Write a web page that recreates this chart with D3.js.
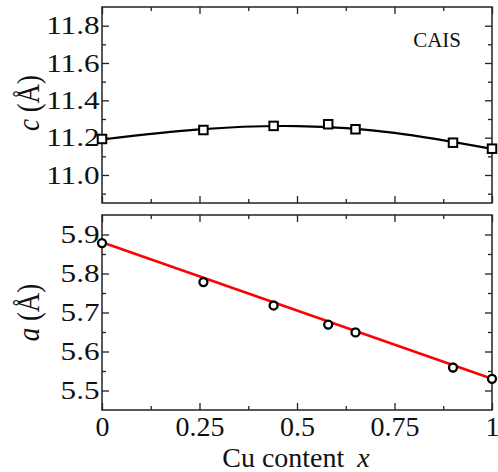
<!DOCTYPE html>
<html>
<head>
<meta charset="utf-8">
<script src="https://cdn.jsdelivr.net/npm/d3@7"></script>
<style>
  body { margin: 0; background: #fff; }
  text { font-family: "Liberation Serif", "Times New Roman", serif; fill: #111; }
</style>
</head>
<body>
<div class="canvas"></div>
<script>
// measured values (Cu content x vs lattice parameters)
const cuX = [0, 0.26, 0.44, 0.58, 0.65, 0.9, 1.0];
const latticeC = [11.193, 11.241, 11.263, 11.272, 11.245, 11.173, 11.141];
const latticeA = [5.878, 5.778, 5.718, 5.669, 5.649, 5.559, 5.530];

// fit curves
const fitCX = [0, 0.25, 0.5, 0.75, 1];
const fitC = [11.19, 11.244, 11.262, 11.226, 11.14];
const fitAX = [0, 1];
const fitA = [5.880, 5.530];

// tick values
const xTicks = [0, 0.25, 0.5, 0.75, 1];
const xTickLabels = ['0', '0.25', '0.5', '0.75', '1'];
const xMinor = [0.125, 0.375, 0.625, 0.875];
const cTicks = [11.0, 11.2, 11.4, 11.6, 11.8];
const cMinor = [10.9, 11.1, 11.3, 11.5, 11.7];
const aTicks = [5.5, 5.6, 5.7, 5.8, 5.9];
const aMinor = [5.55, 5.65, 5.75, 5.85];

const dims = { width: 498, height: 472 };

const svg = d3.select('.canvas')
    .append('svg')
    .attr('width', dims.width)
    .attr('height', dims.height);

// plot area bounds
const left = 102, right = 492;
const top1 = 7, bottom1 = 203;
const top2 = 215, bottom2 = 410;

const x = d3.scaleLinear().domain([0, 1]).range([left, right]);
const yC = d3.scaleLinear().domain([10.85, 11.9]).range([bottom1, top1]);
const yA = d3.scaleLinear().domain([5.45, 5.95]).range([bottom2, top2]);

const major = 7, minor = 4;

// draws all four sides of ticks for a panel
const drawFrame = (yScale, yTop, yBottom, yMajor, yMinor, showX) => {
    const g = svg.append('g');

    const addAxis = (axis, tx, ty) => {
        const a = g.append('g')
            .attr('transform', `translate(${tx}, ${ty})`)
            .call(axis);
        a.select('.domain').remove();
        a.selectAll('line').attr('stroke', '#222').attr('stroke-width', 1.3);
        return a;
    };

    // bottom
    const xb = addAxis(d3.axisBottom(x).tickValues(xTicks)
        .tickSizeInner(-major).tickSizeOuter(0).tickPadding(6)
        .tickFormat((d, i) => showX ? xTickLabels[i] : ''), 0, yBottom);
    xb.selectAll('text').attr('font-size', 28).attr('font-family', 'Liberation Serif').attr('fill', '#111');
    addAxis(d3.axisBottom(x).tickValues(xMinor).tickSizeInner(-minor).tickSizeOuter(0).tickFormat(''), 0, yBottom);
    // top
    addAxis(d3.axisTop(x).tickValues(xTicks).tickSizeInner(-major).tickSizeOuter(0).tickFormat(''), 0, yTop);
    addAxis(d3.axisTop(x).tickValues(xMinor).tickSizeInner(-minor).tickSizeOuter(0).tickFormat(''), 0, yTop);
    // left (the y labels in the original are drawn a bit wide)
    const yl = addAxis(d3.axisLeft(yScale).tickValues(yMajor)
        .tickSizeInner(-major).tickSizeOuter(0).tickPadding(2)
        .tickFormat(d3.format('.1f')), left, 0);
    yl.selectAll('text')
        .attr('font-size', 26)
        .attr('font-family', 'Liberation Serif')
        .attr('fill', '#111')
        .attr('transform', 'scale(1.2, 1)');
    addAxis(d3.axisLeft(yScale).tickValues(yMinor).tickSizeInner(-minor).tickSizeOuter(0).tickFormat(''), left, 0);
    // right
    addAxis(d3.axisRight(yScale).tickValues(yMajor).tickSizeInner(-major).tickSizeOuter(0).tickFormat(''), right, 0);
    addAxis(d3.axisRight(yScale).tickValues(yMinor).tickSizeInner(-minor).tickSizeOuter(0).tickFormat(''), right, 0);

    g.append('rect')
        .attr('x', left).attr('y', yTop)
        .attr('width', right - left).attr('height', yBottom - yTop)
        .attr('fill', 'none').attr('stroke', '#222').attr('stroke-width', 1.5);
};

drawFrame(yC, top1, bottom1, cTicks, cMinor, false);
drawFrame(yA, top2, bottom2, aTicks, aMinor, true);

// top panel: c lattice parameter
const cLine = d3.line()
    .x(d => x(d[0]))
    .y(d => yC(d[1]))
    .curve(d3.curveNatural);

svg.append('path')
    .datum(fitCX.map((d, i) => [d, fitC[i]]))
    .attr('fill', 'none')
    .attr('stroke', '#000')
    .attr('stroke-width', 2.2)
    .attr('d', cLine);

const sq = 8.5;
svg.append('g').selectAll('rect')
    .data(cuX.map((d, i) => [d, latticeC[i]]))
    .enter()
    .append('rect')
    .attr('x', d => x(d[0]) - sq / 2)
    .attr('y', d => yC(d[1]) - sq / 2)
    .attr('width', sq)
    .attr('height', sq)
    .attr('fill', '#fff')
    .attr('stroke', '#000')
    .attr('stroke-width', 2);

// bottom panel: a lattice parameter
const aLine = d3.line()
    .x(d => x(d[0]))
    .y(d => yA(d[1]));

svg.append('path')
    .datum(fitAX.map((d, i) => [d, fitA[i]]))
    .attr('fill', 'none')
    .attr('stroke', '#ff0000')
    .attr('stroke-width', 2.5)
    .attr('d', aLine);

svg.append('g').selectAll('circle')
    .data(cuX.map((d, i) => [d, latticeA[i]]))
    .enter()
    .append('circle')
    .attr('cx', d => x(d[0]))
    .attr('cy', d => yA(d[1]))
    .attr('r', 4)
    .attr('fill', '#fff')
    .attr('stroke', '#000')
    .attr('stroke-width', 2.3);

// labels
svg.append('text')
    .attr('x', 461)
    .attr('y', 47)
    .attr('text-anchor', 'end')
    .attr('font-size', 21)
    .text('CAIS');

const yLabel = (cy, letter) => {
    const t = svg.append('text')
        .attr('transform', `translate(39, ${cy}) rotate(-90) scale(1, 1.2)`)
        .attr('text-anchor', 'middle')
        .attr('font-size', 27);
    t.append('tspan').attr('font-style', 'italic').text(letter);
    t.append('tspan').text(' (Å)');
};
yLabel((top1 + bottom1) / 2 - 2, 'c');
yLabel((top2 + bottom2) / 2, 'a');

const xl = svg.append('text')
    .attr('x', 296)
    .attr('y', 467)
    .attr('text-anchor', 'middle')
    .attr('font-size', 28);
xl.append('tspan').text('Cu content ');
xl.append('tspan').attr('dx', 6).attr('font-style', 'italic').text('x');
</script>
</body>
</html>
